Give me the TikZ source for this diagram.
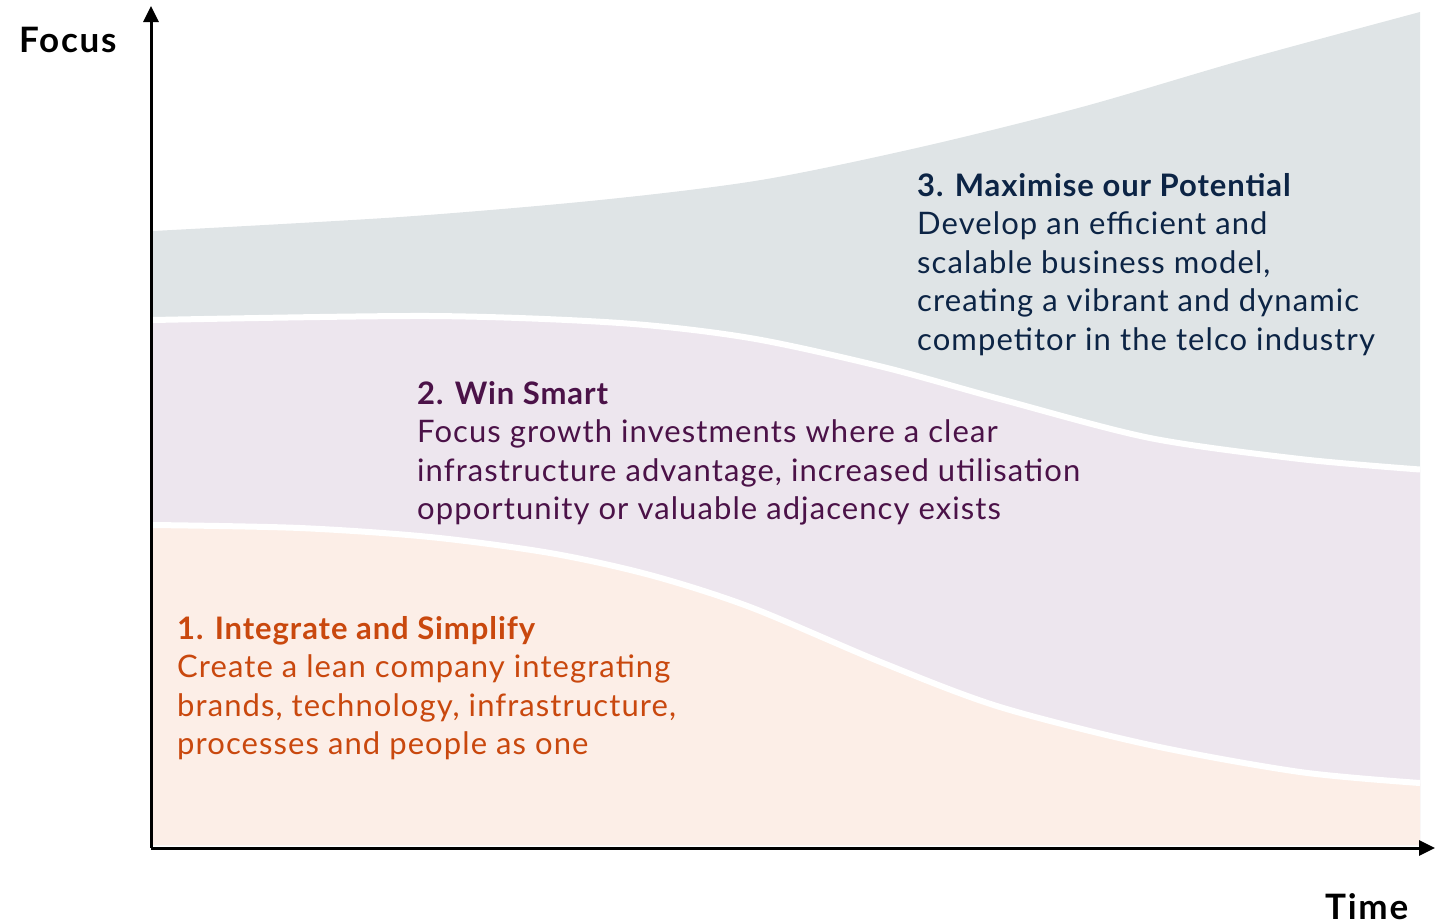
\documentclass[tikz,border=0pt]{standalone}
\usepackage{fontspec}
\setmainfont{Lato}
\newfontfamily\bodyfont[LetterSpace=3.5]{Lato}
\newfontfamily\headfont[LetterSpace=3]{Lato}
\newfontfamily\axfont[LetterSpace=5]{Lato}
\usetikzlibrary{arrows.meta}
\definecolor{greyfill}{HTML}{DFE4E6}
\definecolor{purplefill}{HTML}{EDE6EE}
\definecolor{peachfill}{HTML}{FCEEE7}
\definecolor{navytext}{HTML}{0C2445}
\definecolor{purpletext}{HTML}{4B1248}
\definecolor{orangetext}{HTML}{C9480E}
\tikzset{
  body/.style={anchor=base west, inner sep=0pt, font=\bodyfont\fontsize{31}{37}\selectfont},
  head/.style={anchor=base west, inner sep=0pt, font=\headfont\fontsize{31}{37}\selectfont\bfseries},
  axis/.style={line width=3pt, -{Triangle[length=16pt,width=15pt]}},
  gap/.style={white, line width=6pt},
  axlabel/.style={anchor=base west, inner sep=0pt, font=\axfont\fontsize{35}{42}\selectfont\bfseries}
}
\begin{document}
\begin{tikzpicture}[x=1pt,y=-1pt]
\useasboundingbox (0,0) rectangle (1442,921);
% regions
\fill[greyfill] plot[smooth] coordinates {(153,231) (400,217) (600,200) (761,180) (921,147) (1082,107) (1243,60) (1420,12)} -- (1420,845) -- (153,845) -- cycle;
\fill[purplefill] plot[smooth] coordinates {(153,320) (430,316) (620,323) (750,338) (883,367) (1000,399) (1150,438) (1300,459) (1420,469.5)} -- (1420,845) -- (153,845) -- cycle;
\fill[peachfill] plot[smooth] coordinates {(153,525) (300,528) (430,537) (550,553) (650,575) (750,607) (883,663) (1000,707) (1150,745) (1300,772) (1420,783)} -- (1420,845) -- (153,845) -- cycle;
\draw[gap] plot[smooth] coordinates {(153,320) (430,316) (620,323) (750,338) (883,367) (1000,399) (1150,438) (1300,459) (1420,469.5)};
\draw[gap] plot[smooth] coordinates {(153,525) (300,528) (430,537) (550,553) (650,575) (750,607) (883,663) (1000,707) (1150,745) (1300,772) (1420,783)};
% axes
\coordinate (O) at (151,848);
\coordinate (ytip) at (151,6);
\coordinate (xtip) at (1435,848);
\draw[axis] (O) -- (ytip);
\draw[axis] (O) -- (xtip);
\node[axlabel] (focus) at (19,52) {Focus};
\node[axlabel] (time) at (1325,919) {Time};
% block 3
\node[head, text=navytext] (h3) at (917,196) {3. Maximise our Potential};
\node[body, text=navytext] (b3a) at (917,234.5) {Develop an efficient and};
\node[body, text=navytext] (b3b) at (917,273) {scalable business model,};
\node[body, text=navytext] (b3c) at (917,311.5) {creating a vibrant and dynamic};
\node[body, text=navytext] (b3d) at (917,350) {competitor in the telco industry};
% block 2
\node[head, text=purpletext] (h2) at (417,404) {2. Win Smart};
\node[body, text=purpletext] (b2a) at (417,442.5) {Focus growth investments where a clear};
\node[body, text=purpletext] (b2b) at (417,481) {infrastructure advantage, increased utilisation};
\node[body, text=purpletext] (b2c) at (417,519.5) {opportunity or valuable adjacency exists};
% block 1
\node[head, text=orangetext] (h1) at (177,639) {1. Integrate and Simplify};
\node[body, text=orangetext] (b1a) at (177,677.5) {Create a lean company integrating};
\node[body, text=orangetext] (b1b) at (177,716) {brands, technology, infrastructure,};
\node[body, text=orangetext] (b1c) at (177,754.5) {processes and people as one};
\end{tikzpicture}
\end{document}
